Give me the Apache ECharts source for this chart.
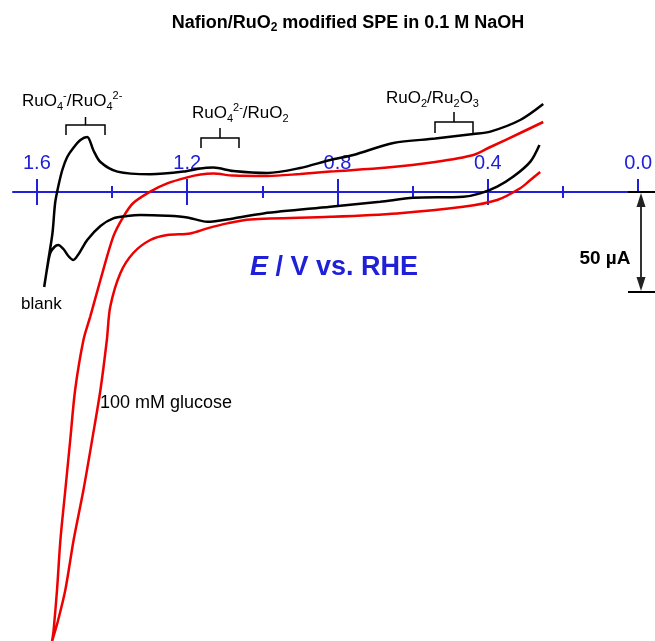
<!DOCTYPE html>
<html><head><meta charset="utf-8">
<script src="https://cdn.jsdelivr.net/npm/echarts@6/dist/echarts.min.js"></script>
<style>html,body{margin:0;padding:0;background:#fff}#c{width:655px;height:641px}</style>
</head><body><div id="c"></div>
<script>
// Potential (V vs. RHE) and current (µA)
const blankE = [0.259,0.320,0.399,0.444,0.545,0.656,0.762,0.823,0.903,0.990,1.080,1.133,1.167,1.212,1.300,1.387,1.432,1.451,1.467,1.485,1.504,1.520,1.533,1.544,1.552,1.559,1.570,1.581,
  1.573,1.565,1.554,1.544,1.530,1.517,1.504,1.488,1.467,1.432,1.398,1.361,1.326,1.255,1.202,1.149,1.080,1.000,0.823,0.691,0.603,0.471,0.426,0.381,0.338,0.293,0.269];
const blankI = [44,36,30.2,29,26.7,24.5,18.5,16,12,9.5,10.5,12.2,11.8,10.2,8.9,10.2,15,21,27.5,26,22,17.5,11,2.5,-5.5,-20.5,-34,-47.5,
  -38,-30.5,-27.5,-26.5,-28.5,-32,-34,-30.5,-24,-17,-13.2,-12,-11.5,-11.9,-12.7,-14.9,-13.2,-10.7,-7.4,-4.9,-2.9,-2.4,-0.7,2.7,7.7,15.2,23.5];
const glucoseE = [0.259,0.320,0.399,0.444,0.545,0.672,0.823,0.903,0.990,1.080,1.133,1.167,1.202,1.255,1.300,1.345,1.371,1.398,1.432,1.459,1.477,1.499,1.512,1.525,1.538,1.547,1.556,1.560,
  1.546,1.525,1.503,1.477,1.454,1.432,1.415,1.406,1.379,1.345,1.300,1.255,1.194,1.149,1.096,1.035,0.823,0.646,0.471,0.381,0.320,0.293,0.267];
const glucoseI = [35,29.5,22.5,18.5,15,12.2,10.2,9,8,8.2,9.2,8.7,7.3,4.3,0.2,-5.5,-12.3,-22.3,-44,-62.3,-74,-99,-124,-149,-174,-199,-219,-224.5,
  -215.5,-199,-174,-149,-124,-99,-74,-57.4,-40.5,-30.5,-24,-21.5,-20.7,-18.2,-15.7,-13.7,-12.4,-10.7,-7.4,-4,1.9,6,10];
const majorTicks = [0, 0.4, 0.8, 1.2, 1.6];
const majorTicksBelow = [0.4, 0.8, 1.2, 1.6];
const minorTicks = [0.2, 0.6, 1.0, 1.4];

const BLUE = '#2020d8';
const FONT = '"Liberation Sans", Arial, sans-serif';
const XMAX = 1.6636, YMIN = -224, YMAX = 50;

const zip = (a, b) => a.map((v, i) => [v, b[i]]);

function xAx(ticks, inside, len, showLabel, showLine) {
  return {
    type: 'value', min: 0, max: XMAX, inverse: true, gridIndex: 1, position: 'bottom',
    axisLine: { show: showLine, onZero: false, lineStyle: { color: BLUE, width: 2 } },
    axisTick: { show: true, inside: inside, length: len, customValues: ticks, lineStyle: { color: BLUE, width: 2 } },
    axisLabel: { show: showLabel, inside: true, margin: 19, customValues: ticks, color: BLUE,
      fontFamily: FONT, fontSize: 20, formatter: v => v.toFixed(1) },
    splitLine: { show: false }
  };
}

const chart = echarts.init(document.getElementById('c'), null, { renderer: 'canvas' });
const richLbl = {
  n: { fontSize: 17, fontFamily: FONT, fill: '#000', lineHeight: 22, verticalAlign: 'middle' },
  b: { fontSize: 11, fontFamily: FONT, fill: '#000', lineHeight: 11, verticalAlign: 'bottom' },
  p: { fontSize: 11, fontFamily: FONT, fill: '#000', lineHeight: 11, verticalAlign: 'top' }
};
function lbl(x, y, text) {
  return { type: 'text', x: x, y: y, style: { text: text, rich: richLbl, align: 'left', verticalAlign: 'middle' } };
}
function bracket(x1, x2, yH, legDown, stemUp) {
  const xm = (x1 + x2) / 2;
  return [
    { type: 'polyline', shape: { points: [[x1, yH + legDown], [x1, yH], [x2, yH], [x2, yH + legDown]] }, style: { stroke: '#000', lineWidth: 1.5, fill: null } },
    { type: 'line', shape: { x1: xm, y1: yH, x2: xm, y2: yH - stemUp }, style: { stroke: '#000', lineWidth: 1.5 } }
  ];
}

chart.setOption({
  animation: false,
  backgroundColor: '#fff',
  grid: [
    { left: 13, right: 14, top: 92, bottom: 1, containLabel: false },
    { left: 13, right: 14, top: 0, bottom: 449, containLabel: false }
  ],
  xAxis: [
    xAx(majorTicks, true, 13, true, true),
    xAx(majorTicksBelow, false, 13, false, false),
    xAx(minorTicks, true, 6, false, false),
    xAx(minorTicks, false, 6, false, false),
    { type: 'value', min: 0, max: XMAX, inverse: true, gridIndex: 0, show: false }
  ],
  yAxis: [
    { type: 'value', min: YMIN, max: YMAX, show: false, gridIndex: 0, splitLine: { show: false } },
    { type: 'value', min: 0, max: 1, show: false, gridIndex: 1, splitLine: { show: false } }
  ],
  series: [
    { type: 'line', name: 'blank', xAxisIndex: 4, yAxisIndex: 0, data: zip(blankE, blankI), smooth: 0.3, showSymbol: false, clip: false,
      lineStyle: { color: '#000', width: 2.5 }, z: 3 },
    { type: 'line', name: '100 mM glucose', xAxisIndex: 4, yAxisIndex: 0, data: zip(glucoseE, glucoseI), smooth: 0.3, showSymbol: false, clip: false,
      lineStyle: { color: '#ee0000', width: 2.5 }, z: 2 }
  ],
  graphic: [
    { type: 'text', x: 348, y: 23, style: { text: '{n|Nafion/RuO}{s|2}{n| modified SPE in 0.1 M NaOH}', align: 'center', verticalAlign: 'middle',
      rich: { n: { fontSize: 18, fontWeight: 'bold', fontFamily: FONT, fill: '#000', lineHeight: 22, verticalAlign: 'middle' },
              s: { fontSize: 12, fontWeight: 'bold', fontFamily: FONT, fill: '#000', lineHeight: 12, verticalAlign: 'bottom' } } } },
    lbl(22, 101, '{n|RuO}{b|4}{p|-}{n|/RuO}{b|4}{p|2-}'),
    lbl(192, 113, '{n|RuO}{b|4}{p|2-}{n|/RuO}{b|2}'),
    lbl(386, 98, '{n|RuO}{b|2}{n|/Ru}{b|2}{n|O}{b|3}'),
    ...bracket(66, 105, 125, 10, 8),
    ...bracket(201, 239, 138, 10, 10),
    ...bracket(435, 473, 122, 11, 10),
    { type: 'text', x: 21, y: 304, style: { text: 'blank', font: '17px ' + FONT, fill: '#000', align: 'left', verticalAlign: 'middle' } },
    { type: 'text', x: 100, y: 403, style: { text: '100 mM glucose', font: '18px ' + FONT, fill: '#000', align: 'left', verticalAlign: 'middle' } },
    { type: 'text', x: 334, y: 268, style: { text: '{i|E}{n| / V vs. RHE}', align: 'center', verticalAlign: 'middle',
      rich: { i: { fontSize: 27, fontWeight: 'bold', fontStyle: 'italic', fontFamily: FONT, fill: BLUE },
              n: { fontSize: 27, fontWeight: 'bold', fontFamily: FONT, fill: BLUE } } } },
    // 50 µA scale bar
    { type: 'line', shape: { x1: 628, y1: 192, x2: 655, y2: 192 }, style: { stroke: '#000', lineWidth: 2 }, z: 10 },
    { type: 'line', shape: { x1: 628, y1: 292, x2: 655, y2: 292 }, style: { stroke: '#000', lineWidth: 2 }, z: 10 },
    { type: 'line', shape: { x1: 641, y1: 200, x2: 641, y2: 284 }, style: { stroke: '#333', lineWidth: 2 }, z: 10 },
    { type: 'polygon', shape: { points: [[641, 193], [636.5, 207], [645.5, 207]] }, style: { fill: '#222' }, z: 10 },
    { type: 'polygon', shape: { points: [[641, 291], [636.5, 277], [645.5, 277]] }, style: { fill: '#222' }, z: 10 },
    { type: 'text', x: 605, y: 259, style: { text: '50 \u00b5A', font: 'bold 19px ' + FONT, fill: '#000', align: 'center', verticalAlign: 'middle' } }
  ]
});
</script></body></html>
